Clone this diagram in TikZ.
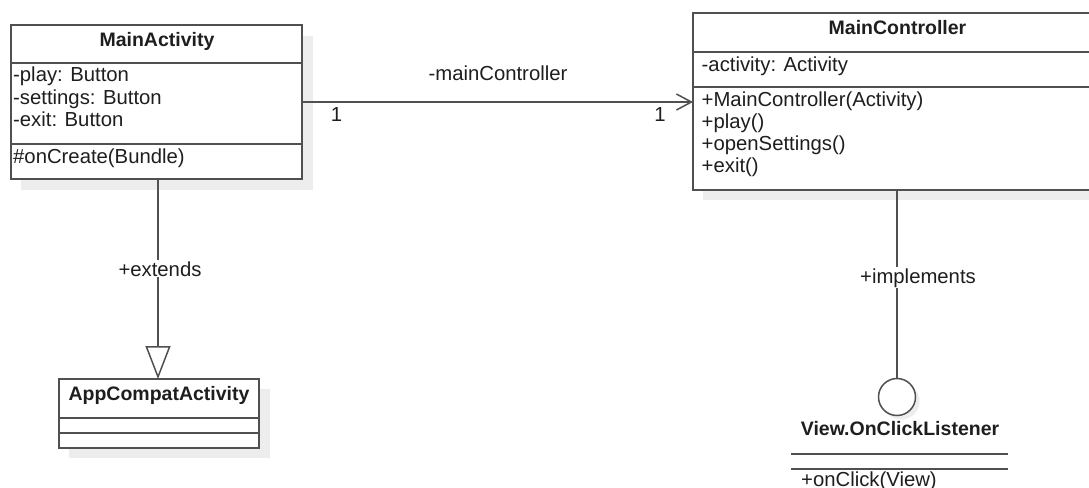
\documentclass[tikz,border=0pt]{standalone}
\usepackage{fontspec}
\setmainfont{Liberation Sans}
\usetikzlibrary{arrows.meta}
\definecolor{linec}{HTML}{505050}
\definecolor{textc}{HTML}{1E1E1E}
\definecolor{shadowc}{HTML}{EDEDED}
\begin{document}
\begin{tikzpicture}[x=1pt,y=-1pt,
  box/.style={draw=linec, line width=1.6pt, fill=white, inner sep=0pt, outer sep=0pt},
  divider/.style={draw=linec, line width=1.6pt},
  conn/.style={draw=linec, line width=1.5pt},
  txt/.style={anchor=base west, inner sep=0pt, text=textc, font=\fontsize{20.3}{22}\selectfont},
  btxt/.style={anchor=base, inner sep=0pt, text=textc, font=\fontsize{19.5}{22}\selectfont\bfseries},
  lab/.style={anchor=base, inner sep=1pt, fill=white, text=textc, font=\fontsize{20.3}{22}\selectfont},
  shadow/.style={fill=shadowc}
]
\useasboundingbox (0,0) rectangle (1089,487);
\fill[white] (0,0) rectangle (1089,487);

% shadows
\fill[shadow] (21,36) rectangle (313,190);
\fill[shadow] (703,23) rectangle (1111,200);
\fill[shadow] (69,389) rectangle (270,458);
\fill[shadow] (901,401) circle (18.5);

% MainActivity
\node[box, minimum width=291pt, minimum height=154pt] (ma) at (156.5,102) {};
\draw[divider] (ma.west |- 0,63) -- (ma.east |- 0,63);
\draw[divider] (ma.west |- 0,144) -- (ma.east |- 0,144);
\node[btxt] (ma-title) at (157,46.7) {MainActivity};
\node[txt] (ma-a1) at (13,81.7) {-play: Button};
\node[txt] (ma-a2) at (13,104) {-settings: Button};
\node[txt] (ma-a3) at (13,126.5) {-exit: Button};
\node[txt] (ma-m1) at (13,163) {\#onCreate(Bundle)};

% MainController
\node[box, minimum width=408pt, minimum height=177pt] (mc) at (897,101.5) {};
\draw[divider] (mc.west |- 0,52) -- (mc.east |- 0,52);
\draw[divider] (mc.west |- 0,87) -- (mc.east |- 0,87);
\node[btxt] (mc-title) at (897.5,35) {MainController};
\node[txt] (mc-a1) at (701.5,71.7) {-activity: Activity};
\node[txt] (mc-m1) at (701.5,106.7) {+MainController(Activity)};
\node[txt] (mc-m2) at (701.5,128.5) {+play()};
\node[txt] (mc-m3) at (701.5,150.5) {+openSettings()};
\node[txt] (mc-m4) at (701.5,172.5) {+exit()};

% AppCompatActivity
\node[box, minimum width=200pt, minimum height=69pt] (ac) at (159,413.5) {};
\draw[divider] (ac.west |- 0,418) -- (ac.east |- 0,418);
\draw[divider] (ac.west |- 0,433) -- (ac.east |- 0,433);
\node[btxt] (ac-title) at (159,400) {AppCompatActivity};

% Interface
\node[draw=linec, line width=1.5pt, circle, minimum size=37pt, inner sep=0pt, fill=white] (ifc) at (897,397) {};
\node[btxt] (ifc-name) at (900,435) {View.OnClickListener};
\coordinate (il1a) at (791,454); \coordinate (il1b) at (1008,454);
\coordinate (il2a) at (791,469); \coordinate (il2b) at (1008,469);
\draw[divider] (il1a) -- (il1b);
\draw[divider] (il2a) -- (il2b);
\node[txt] (ifc-m1) at (801,486.7) {+onClick(View)};

% association
\draw[conn, -{Straight Barb[length=15pt,width=16pt]}] (ma.east) -- (ma.east -| mc.west);
\node[lab, fill=none] (lab-assoc) at (498,80.7) {-mainController};
\node[lab, fill=none] (lab-m1) at (336.5,121.7) {1};
\node[lab, fill=none] (lab-m2) at (660,121.7) {1};

% generalization
\draw[conn, -{Triangle[open, length=33pt, width=25pt, fill=white]}] (158,179) -- (158,379);
\node[lab] (lab-ext) at (160,276) {+extends};

% realization
\draw[conn] (mc.south) -- (ifc.north);
\node[lab] (lab-impl) at (918,283) {+implements};
\end{tikzpicture}
\end{document}
